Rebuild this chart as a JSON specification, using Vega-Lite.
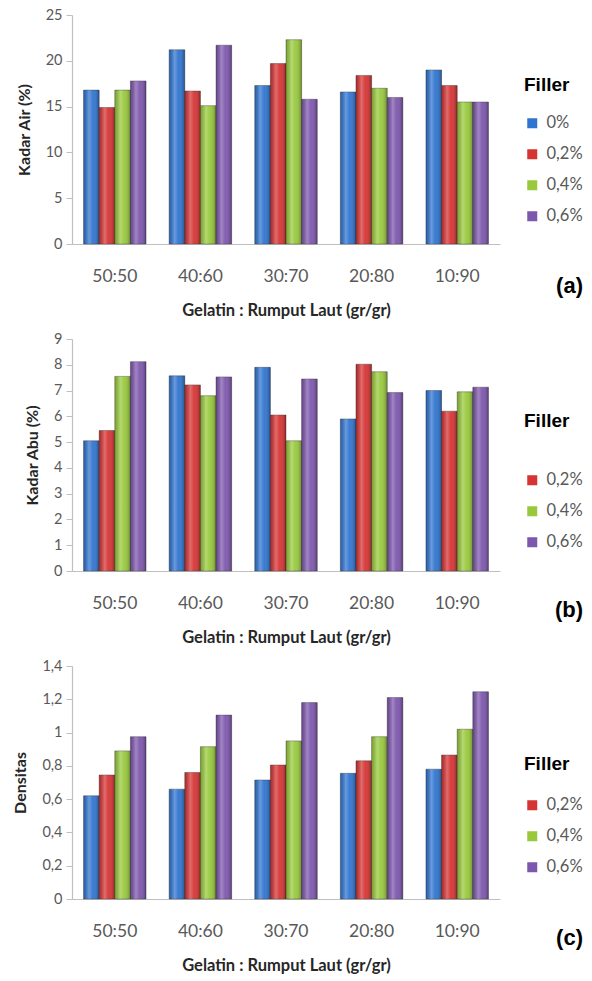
{
  "$schema": "https://vega.github.io/schema/vega-lite/v6.json",
  "background": "white",
  "padding": {"left": 12, "top": 7, "right": 6, "bottom": 2},
  "spacing": 12,
  "datasets": {
    "rows": [
      {"panel": "a", "ratio": "50:50", "filler": "0%", "value": 16.8},
      {"panel": "a", "ratio": "50:50", "filler": "0,2%", "value": 14.9},
      {"panel": "a", "ratio": "50:50", "filler": "0,4%", "value": 16.8},
      {"panel": "a", "ratio": "50:50", "filler": "0,6%", "value": 17.8},
      {"panel": "a", "ratio": "40:60", "filler": "0%", "value": 21.2},
      {"panel": "a", "ratio": "40:60", "filler": "0,2%", "value": 16.7},
      {"panel": "a", "ratio": "40:60", "filler": "0,4%", "value": 15.1},
      {"panel": "a", "ratio": "40:60", "filler": "0,6%", "value": 21.7},
      {"panel": "a", "ratio": "30:70", "filler": "0%", "value": 17.3},
      {"panel": "a", "ratio": "30:70", "filler": "0,2%", "value": 19.7},
      {"panel": "a", "ratio": "30:70", "filler": "0,4%", "value": 22.3},
      {"panel": "a", "ratio": "30:70", "filler": "0,6%", "value": 15.8},
      {"panel": "a", "ratio": "20:80", "filler": "0%", "value": 16.6},
      {"panel": "a", "ratio": "20:80", "filler": "0,2%", "value": 18.4},
      {"panel": "a", "ratio": "20:80", "filler": "0,4%", "value": 17.0},
      {"panel": "a", "ratio": "20:80", "filler": "0,6%", "value": 16.0},
      {"panel": "a", "ratio": "10:90", "filler": "0%", "value": 19.0},
      {"panel": "a", "ratio": "10:90", "filler": "0,2%", "value": 17.3},
      {"panel": "a", "ratio": "10:90", "filler": "0,4%", "value": 15.5},
      {"panel": "a", "ratio": "10:90", "filler": "0,6%", "value": 15.5},
      {"panel": "b", "ratio": "50:50", "filler": "0%", "value": 5.05},
      {"panel": "b", "ratio": "50:50", "filler": "0,2%", "value": 5.45},
      {"panel": "b", "ratio": "50:50", "filler": "0,4%", "value": 7.55},
      {"panel": "b", "ratio": "50:50", "filler": "0,6%", "value": 8.12},
      {"panel": "b", "ratio": "40:60", "filler": "0%", "value": 7.57},
      {"panel": "b", "ratio": "40:60", "filler": "0,2%", "value": 7.22},
      {"panel": "b", "ratio": "40:60", "filler": "0,4%", "value": 6.8},
      {"panel": "b", "ratio": "40:60", "filler": "0,6%", "value": 7.53},
      {"panel": "b", "ratio": "30:70", "filler": "0%", "value": 7.9},
      {"panel": "b", "ratio": "30:70", "filler": "0,2%", "value": 6.05},
      {"panel": "b", "ratio": "30:70", "filler": "0,4%", "value": 5.05},
      {"panel": "b", "ratio": "30:70", "filler": "0,6%", "value": 7.45},
      {"panel": "b", "ratio": "20:80", "filler": "0%", "value": 5.9},
      {"panel": "b", "ratio": "20:80", "filler": "0,2%", "value": 8.02},
      {"panel": "b", "ratio": "20:80", "filler": "0,4%", "value": 7.73},
      {"panel": "b", "ratio": "20:80", "filler": "0,6%", "value": 6.92},
      {"panel": "b", "ratio": "10:90", "filler": "0%", "value": 7.0},
      {"panel": "b", "ratio": "10:90", "filler": "0,2%", "value": 6.2},
      {"panel": "b", "ratio": "10:90", "filler": "0,4%", "value": 6.95},
      {"panel": "b", "ratio": "10:90", "filler": "0,6%", "value": 7.13},
      {"panel": "c", "ratio": "50:50", "filler": "0%", "value": 0.62},
      {"panel": "c", "ratio": "50:50", "filler": "0,2%", "value": 0.745},
      {"panel": "c", "ratio": "50:50", "filler": "0,4%", "value": 0.89},
      {"panel": "c", "ratio": "50:50", "filler": "0,6%", "value": 0.975},
      {"panel": "c", "ratio": "40:60", "filler": "0%", "value": 0.66},
      {"panel": "c", "ratio": "40:60", "filler": "0,2%", "value": 0.76},
      {"panel": "c", "ratio": "40:60", "filler": "0,4%", "value": 0.915},
      {"panel": "c", "ratio": "40:60", "filler": "0,6%", "value": 1.105},
      {"panel": "c", "ratio": "30:70", "filler": "0%", "value": 0.715},
      {"panel": "c", "ratio": "30:70", "filler": "0,2%", "value": 0.805},
      {"panel": "c", "ratio": "30:70", "filler": "0,4%", "value": 0.95},
      {"panel": "c", "ratio": "30:70", "filler": "0,6%", "value": 1.18},
      {"panel": "c", "ratio": "20:80", "filler": "0%", "value": 0.755},
      {"panel": "c", "ratio": "20:80", "filler": "0,2%", "value": 0.83},
      {"panel": "c", "ratio": "20:80", "filler": "0,4%", "value": 0.975},
      {"panel": "c", "ratio": "20:80", "filler": "0,6%", "value": 1.21},
      {"panel": "c", "ratio": "10:90", "filler": "0%", "value": 0.78},
      {"panel": "c", "ratio": "10:90", "filler": "0,2%", "value": 0.865},
      {"panel": "c", "ratio": "10:90", "filler": "0,4%", "value": 1.02},
      {"panel": "c", "ratio": "10:90", "filler": "0,6%", "value": 1.245}
    ]
  },
  "config": {
    "view": {"stroke": null},
    "font": "Lato",
    "axis": {
      "domainColor": "#bfbfbf",
      "tickColor": "#bfbfbf",
      "labelColor": "#595959",
      "labelFont": "Lato",
      "titleFont": "Lato",
      "titleColor": "#262626",
      "titleFontWeight": "bold",
      "grid": false
    },
    "axisX": {"ticks": false, "labelPadding": 23, "labelFontSize": 17.5, "titleFontSize": 16.5, "titlePadding": 18, "labelAngle": 0, "domainWidth": 1.2},
    "axisY": {"tickSize": 6, "labelPadding": 4, "labelFontSize": 14.5, "titleFontSize": 16, "titlePadding": 13, "domainWidth": 1.2},
    "legend": {
      "titleFont": "Liberation Sans",
      "titleFontSize": 19,
      "titleFontWeight": "bold",
      "titleColor": "#000000",
      "labelFont": "Lato",
      "labelFontSize": 16.5,
      "labelColor": "#595959",
      "symbolType": "square",
      "symbolSize": 100,
      "symbolStrokeWidth": 0,
      "labelOffset": 6,
      "rowPadding": 14,
      "padding": 0
    },
    "title": {
      "font": "Liberation Sans",
      "fontSize": 22,
      "fontWeight": "bold",
      "color": "#000000",
      "orient": "bottom",
      "anchor": "end",
      "frame": "bounds",
      "offset": 0
    }
  },
  "vconcat": [
    {
      "title": {"text": "(a)", "dy": -47},
      "width": 428,
      "height": 229,
      "data": {"name": "rows"},
      "transform": [{"filter": "datum.panel === 'a'"}],
      "encoding": {
        "x": {"field": "ratio", "type": "nominal", "sort": ["50:50", "40:60", "30:70", "20:80", "10:90"], "scale": {"paddingInner": 0.27, "paddingOuter": 0.135}, "title": "Gelatin : Rumput Laut (gr/gr)"},
        "xOffset": {"field": "filler", "type": "nominal", "sort": ["0%", "0,2%", "0,4%", "0,6%"]},
        "y": {"field": "value", "type": "quantitative", "scale": {"domain": [0, 25]}, "axis": {"values": [0, 5, 10, 15, 20, 25], "format": "d"}, "title": "Kadar Air (%)"}
      },
      "layer": [
        {
          "mark": {"type": "bar", "strokeWidth": 0.8, "stroke": "#30303080"},
          "encoding": {
            "color": {
              "field": "filler", "type": "nominal",
              "sort": ["0%", "0,2%", "0,4%", "0,6%"],
              "scale": {"domain": ["0%", "0,2%", "0,4%", "0,6%"], "range": ["#2f74d0", "#d63333", "#98c93c", "#7d56ad"]},
              "legend": {"title": "Filler", "orient": "none", "legendX": 452, "legendY": 61, "titlePadding": 20}
            }
          }
        },
        {
          "mark": {
            "type": "bar",
            "color": {"gradient": "linear", "x1": 0, "x2": 1, "y1": 0, "y2": 0,
              "stops": [{"offset": 0, "color": "rgba(0,0,0,0.18)"}, {"offset": 0.35, "color": "rgba(255,255,255,0.28)"}, {"offset": 0.6, "color": "rgba(255,255,255,0.05)"}, {"offset": 1, "color": "rgba(0,0,0,0.3)"}]}
          },
          "encoding": {}
        }
      ]
    },
    {
      "title": {"text": "(b)", "dy": -50},
      "width": 428,
      "height": 232,
      "data": {"name": "rows"},
      "transform": [{"filter": "datum.panel === 'b'"}],
      "encoding": {
        "x": {"field": "ratio", "type": "nominal", "sort": ["50:50", "40:60", "30:70", "20:80", "10:90"], "scale": {"paddingInner": 0.27, "paddingOuter": 0.135}, "title": "Gelatin : Rumput Laut (gr/gr)"},
        "xOffset": {"field": "filler", "type": "nominal", "sort": ["0%", "0,2%", "0,4%", "0,6%"]},
        "y": {"field": "value", "type": "quantitative", "scale": {"domain": [0, 9]}, "axis": {"values": [0, 1, 2, 3, 4, 5, 6, 7, 8, 9], "format": "d"}, "title": "Kadar Abu (%)"}
      },
      "layer": [
        {
          "mark": {"type": "bar", "strokeWidth": 0.8, "stroke": "#30303080"},
          "encoding": {
            "color": {
              "field": "filler", "type": "nominal",
              "sort": ["0%", "0,2%", "0,4%", "0,6%"],
              "scale": {"domain": ["0%", "0,2%", "0,4%", "0,6%"], "range": ["#2f74d0", "#d63333", "#98c93c", "#7d56ad"]},
              "legend": {"title": "Filler", "orient": "none", "legendX": 452, "legendY": 73, "titlePadding": 41, "values": ["0,2%", "0,4%", "0,6%"]}
            }
          }
        },
        {
          "mark": {
            "type": "bar",
            "color": {"gradient": "linear", "x1": 0, "x2": 1, "y1": 0, "y2": 0,
              "stops": [{"offset": 0, "color": "rgba(0,0,0,0.18)"}, {"offset": 0.35, "color": "rgba(255,255,255,0.28)"}, {"offset": 0.6, "color": "rgba(255,255,255,0.05)"}, {"offset": 1, "color": "rgba(0,0,0,0.3)"}]}
          },
          "encoding": {}
        }
      ]
    },
    {
      "title": {"text": "(c)", "dy": -50},
      "width": 428,
      "height": 233,
      "data": {"name": "rows"},
      "transform": [{"filter": "datum.panel === 'c'"}],
      "encoding": {
        "x": {"field": "ratio", "type": "nominal", "sort": ["50:50", "40:60", "30:70", "20:80", "10:90"], "scale": {"paddingInner": 0.27, "paddingOuter": 0.135}, "title": "Gelatin : Rumput Laut (gr/gr)"},
        "xOffset": {"field": "filler", "type": "nominal", "sort": ["0%", "0,2%", "0,4%", "0,6%"]},
        "y": {"field": "value", "type": "quantitative", "scale": {"domain": [0, 1.4]}, "axis": {"values": [0, 0.2, 0.4, 0.6, 0.8, 1, 1.2, 1.4], "labelExpr": "replace(format(datum.value, '~g'), '.', ',')"}, "title": "Densitas"}
      },
      "layer": [
        {
          "mark": {"type": "bar", "strokeWidth": 0.8, "stroke": "#30303080"},
          "encoding": {
            "color": {
              "field": "filler", "type": "nominal",
              "sort": ["0%", "0,2%", "0,4%", "0,6%"],
              "scale": {"domain": ["0%", "0,2%", "0,4%", "0,6%"], "range": ["#2f74d0", "#d63333", "#98c93c", "#7d56ad"]},
              "legend": {"title": "Filler", "orient": "none", "legendX": 452, "legendY": 89, "titlePadding": 23, "values": ["0,2%", "0,4%", "0,6%"]}
            }
          }
        },
        {
          "mark": {
            "type": "bar",
            "color": {"gradient": "linear", "x1": 0, "x2": 1, "y1": 0, "y2": 0,
              "stops": [{"offset": 0, "color": "rgba(0,0,0,0.18)"}, {"offset": 0.35, "color": "rgba(255,255,255,0.28)"}, {"offset": 0.6, "color": "rgba(255,255,255,0.05)"}, {"offset": 1, "color": "rgba(0,0,0,0.3)"}]}
          },
          "encoding": {}
        }
      ]
    }
  ],
  "resolve": {"scale": {"color": "independent"}}
}
